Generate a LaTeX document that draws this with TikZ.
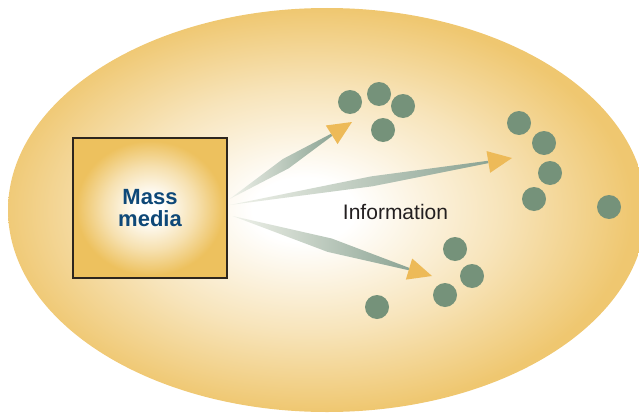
\documentclass[tikz,border=0pt]{standalone}
\usepackage{fontspec}
\setmainfont{Liberation Sans}
\usepackage{xcolor}
\usepackage{tikz}
\usetikzlibrary{calc,positioning}

\definecolor{audGold}{RGB}{239,199,112}
\definecolor{boxGold}{RGB}{237,193,94}
\definecolor{boxLine}{RGB}{45,38,30}
\definecolor{mediaBlue}{RGB}{14,72,120}
\definecolor{crowdGreen}{RGB}{117,146,122}
\definecolor{headGold}{RGB}{237,186,88}
\definecolor{flowPale}{RGB}{240,242,234}
\definecolor{flowGreen}{RGB}{140,164,148}

\pgfdeclareradialshading{audience}{\pgfpoint{-2bp}{0bp}}{%
  color(0bp)=(white); color(4bp)=(white);
  color(15bp)=(audGold!48!white);
  color(25bp)=(audGold); color(50bp)=(audGold)}
\pgfdeclareradialshading{mediaglow}{\pgfpoint{0bp}{0bp}}{%
  color(0bp)=(white); color(4bp)=(white);
  color(15bp)=(boxGold!50!white);
  color(24bp)=(boxGold); color(50bp)=(boxGold)}

\begin{document}
\begin{tikzpicture}[
  x=1pt, y=-1pt,
  pmedia/.style={rectangle, minimum width=154pt, minimum height=140pt,
    shading=mediaglow, draw=boxLine, line width=1.2pt,
    align=center, text=mediaBlue,
    font=\fontsize{22}{23}\selectfont\bfseries},
  pinfo/.style={font=\fontsize{21}{24}\selectfont,
    text={rgb,255:red,35;green,31;blue,32}, inner sep=0pt},
  pflow/.style={left color=flowPale, right color=flowGreen},
  phead/.style={fill=headGold},
  pdot/.style={fill=crowdGreen},
]
  \useasboundingbox (0,0) rectangle (639,412);
  \clip (0,0) rectangle (639,412);

  %% ── Audience ────────────────────────────────────────────────
  \shade[shading=audience] (327,210) ellipse [x radius=319, y radius=202];

  %% ── Source and label ────────────────────────────────────────
  \node[pmedia, shade] (media) at (150,208) {Mass\\[-1pt]media};
  \node[pinfo, anchor=base] (info) at (395.5,219) {Information};

  %% ── Flow ends ───────────────────────────────────────────────
  \coordinate (out1) at ($(media.east)+(2,-9)$);
  \coordinate (out2) at ($(media.east)+(2,-3)$);
  \coordinate (out3) at ($(media.east)+(5,8)$);
  \coordinate (tip1) at (352,122);
  \coordinate (tip2) at (512,158);
  \coordinate (tip3) at (432,276);

  %% ── Information flows ───────────────────────────────────────
  \foreach \n/\w in {1/5.5pt, 2/5pt, 3/7pt} {
    \coordinate (hb) at ($(tip\n)!24pt!(out\n)$);
    \shade[pflow] (out\n)
      -- ($(out\n)!0.55!(hb)!\w!90:(hb)$)
      -- ($(hb)!1.2pt!90:(tip\n)$)
      -- ($(hb)!1.2pt!-90:(tip\n)$)
      -- ($(out\n)!0.55!(hb)!\w!-90:(hb)$) -- cycle;
    \fill[phead] ($(hb)!11pt!90:(tip\n)$) -- (tip\n)
      -- ($(hb)!11pt!-90:(tip\n)$) -- cycle;
  }

  %% ── Receivers ───────────────────────────────────────────────
  \foreach \p in {(350,102), (379,94), (403,106), (383,130),
                  (519,123), (544,143), (550,173), (534,199), (609,207),
                  (455,249), (472,276), (445,295), (377,307)}
    \fill[pdot] \p circle (12);

\end{tikzpicture}
\end{document}
